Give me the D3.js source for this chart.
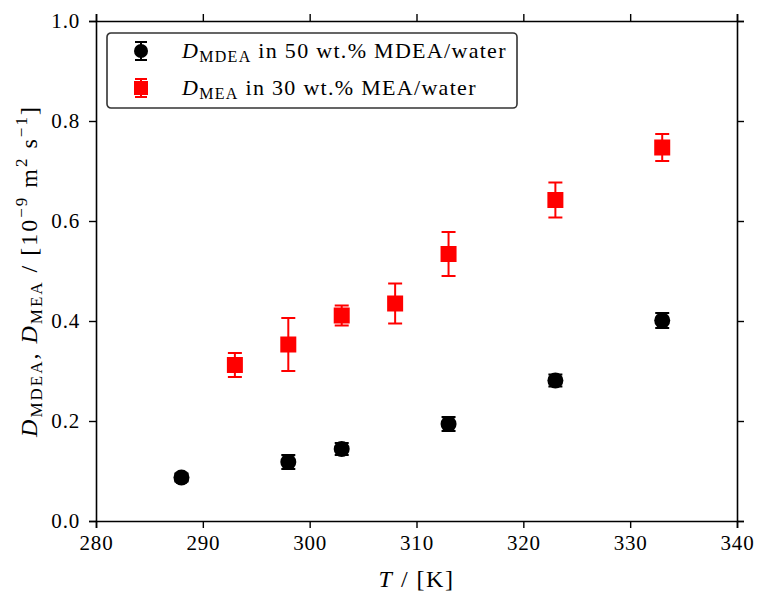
<!DOCTYPE html>
<html>
<head>
<meta charset="utf-8">
<script src="https://cdn.jsdelivr.net/npm/d3@7"></script>
<style>
  body { margin: 0; background: #fff; }
  svg text { font-family: "Liberation Serif", "DejaVu Serif", serif; fill: #000; }
</style>
</head>
<body>
<svg id="chart" width="758" height="594"></svg>
<script>
// Temperatures [K]
const tempMDEA = [288, 298, 303, 313, 323, 333];
const diffMDEA = [0.087, 0.118, 0.144, 0.194, 0.281, 0.401];
const errMDEA = [0.008, 0.014, 0.012, 0.014, 0.012, 0.015];

const tempMEA = [293, 298, 303, 308, 313, 323, 333];
const diffMEA = [0.312, 0.353, 0.411, 0.435, 0.534, 0.642, 0.747];
const errMEA = [0.024, 0.053, 0.02, 0.04, 0.044, 0.035, 0.027];

const xTicks = [280, 290, 300, 310, 320, 330, 340];
const yTicks = [0.0, 0.2, 0.4, 0.6, 0.8, 1.0];

const svg = d3.select('#chart');
const margin = { left: 96, right: 21, top: 21, bottom: 73 };
const width = 758, height = 594;
const serif = '"Liberation Serif", "DejaVu Serif", serif';

const x = d3.scaleLinear().domain([280, 340]).range([margin.left, width - margin.right]);
const y = d3.scaleLinear().domain([0, 1]).range([height - margin.bottom, margin.top]);

// axes, ticks outward on all four sides
const tickLen = 7;
svg.append('g')
  .attr('transform', `translate(0,${y(0)})`)
  .call(d3.axisBottom(x).tickValues(xTicks).tickSize(tickLen).tickPadding(7).tickFormat(d3.format('d')))
  .attr('font-family', serif).attr('font-size', 21);
svg.append('g')
  .attr('transform', `translate(0,${y(1)})`)
  .call(d3.axisTop(x).tickValues(xTicks).tickSize(tickLen).tickFormat(''));
svg.append('g')
  .attr('transform', `translate(${x(280)},0)`)
  .call(d3.axisLeft(y).tickValues(yTicks).tickSize(tickLen).tickPadding(9).tickFormat(d3.format('.1f')))
  .attr('font-family', serif).attr('font-size', 21);
svg.append('g')
  .attr('transform', `translate(${x(340)},0)`)
  .call(d3.axisRight(y).tickValues(yTicks).tickSize(tickLen).tickFormat(''));

svg.selectAll('.domain').attr('stroke', '#000').attr('stroke-width', 1.6);
svg.selectAll('.tick line').attr('stroke', '#000').attr('stroke-width', 1.4);
svg.selectAll('.tick text').attr('letter-spacing', 0.8);

// error bars + markers
function errorBars(xs, ys, es, color) {
  const g = svg.append('g');
  const data = xs.map((t, i) => ({ t, v: ys[i], e: es[i] }));
  g.selectAll('line.v').data(data).enter().append('line')
    .attr('x1', d => x(d.t)).attr('x2', d => x(d.t))
    .attr('y1', d => y(d.v - d.e)).attr('y2', d => y(d.v + d.e))
    .attr('stroke', color).attr('stroke-width', 2);
  [-1, 1].forEach(s => {
    g.selectAll(null).data(data).enter().append('line')
      .attr('x1', d => x(d.t) - 7).attr('x2', d => x(d.t) + 7)
      .attr('y1', d => y(d.v + s * d.e)).attr('y2', d => y(d.v + s * d.e))
      .attr('stroke', color).attr('stroke-width', 2);
  });
  return { g, data };
}

const mdea = errorBars(tempMDEA, diffMDEA, errMDEA, '#000');
mdea.g.selectAll('circle').data(mdea.data).enter().append('circle')
  .attr('cx', d => x(d.t)).attr('cy', d => y(d.v)).attr('r', 8).attr('fill', '#000');

const mea = errorBars(tempMEA, diffMEA, errMEA, '#ff0000');
mea.g.selectAll('rect').data(mea.data).enter().append('rect')
  .attr('x', d => x(d.t) - 8).attr('y', d => y(d.v) - 8)
  .attr('width', 16).attr('height', 16).attr('fill', '#ff0000');

// axis labels
const xl = svg.append('text')
  .attr('x', (x(280) + x(340)) / 2).attr('y', 587)
  .attr('text-anchor', 'middle').attr('font-size', 24).attr('letter-spacing', 1.5);
xl.append('tspan').attr('font-style', 'italic').text('T');
xl.append('tspan').text(' / [K]');

const yl = svg.append('text')
  .attr('transform', `translate(37,${(y(0) + y(1)) / 2}) rotate(-90)`)
  .attr('text-anchor', 'middle').attr('font-size', 24).attr('letter-spacing', 2);
yl.append('tspan').attr('font-style', 'italic').text('D');
yl.append('tspan').attr('font-size', 17).attr('dy', 5).text('MDEA');
yl.append('tspan').attr('dy', -5).text(',  ');
yl.append('tspan').attr('font-style', 'italic').text('D');
yl.append('tspan').attr('font-size', 17).attr('dy', 5).text('MEA');
yl.append('tspan').attr('dy', -5).text(' / [10');
yl.append('tspan').attr('font-size', 17).attr('dy', -10).text('−9');
yl.append('tspan').attr('dy', 10).text(' m');
yl.append('tspan').attr('font-size', 17).attr('dy', -10).text('2');
yl.append('tspan').attr('dy', 10).text(' s');
yl.append('tspan').attr('font-size', 17).attr('dy', -10).text('−1');
yl.append('tspan').attr('dy', 10).text(']');

// legend
const legend = svg.append('g').attr('transform', 'translate(107,33)');
legend.append('rect')
  .attr('width', 410).attr('height', 75).attr('rx', 4)
  .attr('fill', '#fff').attr('stroke', '#333').attr('stroke-width', 1.6);

const legendItems = [
  { label: 'MDEA', text: ' in 50 wt.% MDEA/water', color: '#000', shape: 'circle' },
  { label: 'MEA', text: ' in 30 wt.% MEA/water', color: '#ff0000', shape: 'square' }
];
legendItems.forEach((item, i) => {
  const cy = 18 + i * 37;
  const g = legend.append('g').attr('transform', `translate(34,${cy})`);
  g.append('line').attr('y1', -9).attr('y2', 9).attr('stroke', item.color).attr('stroke-width', 2);
  [-9, 9].forEach(yy => g.append('line').attr('x1', -6).attr('x2', 6).attr('y1', yy).attr('y2', yy)
    .attr('stroke', item.color).attr('stroke-width', 2));
  if (item.shape === 'circle') g.append('circle').attr('r', 7).attr('fill', item.color);
  else g.append('rect').attr('x', -7).attr('y', -7).attr('width', 14).attr('height', 14).attr('fill', item.color);

  const t = legend.append('text').attr('x', 75).attr('y', cy + 7)
    .attr('font-size', 22).attr('letter-spacing', 1.3);
  t.append('tspan').attr('font-style', 'italic').text('D');
  t.append('tspan').attr('font-size', 16).attr('dy', 4).text(item.label);
  t.append('tspan').attr('dy', -4).text(item.text);
});
</script>
</body>
</html>
